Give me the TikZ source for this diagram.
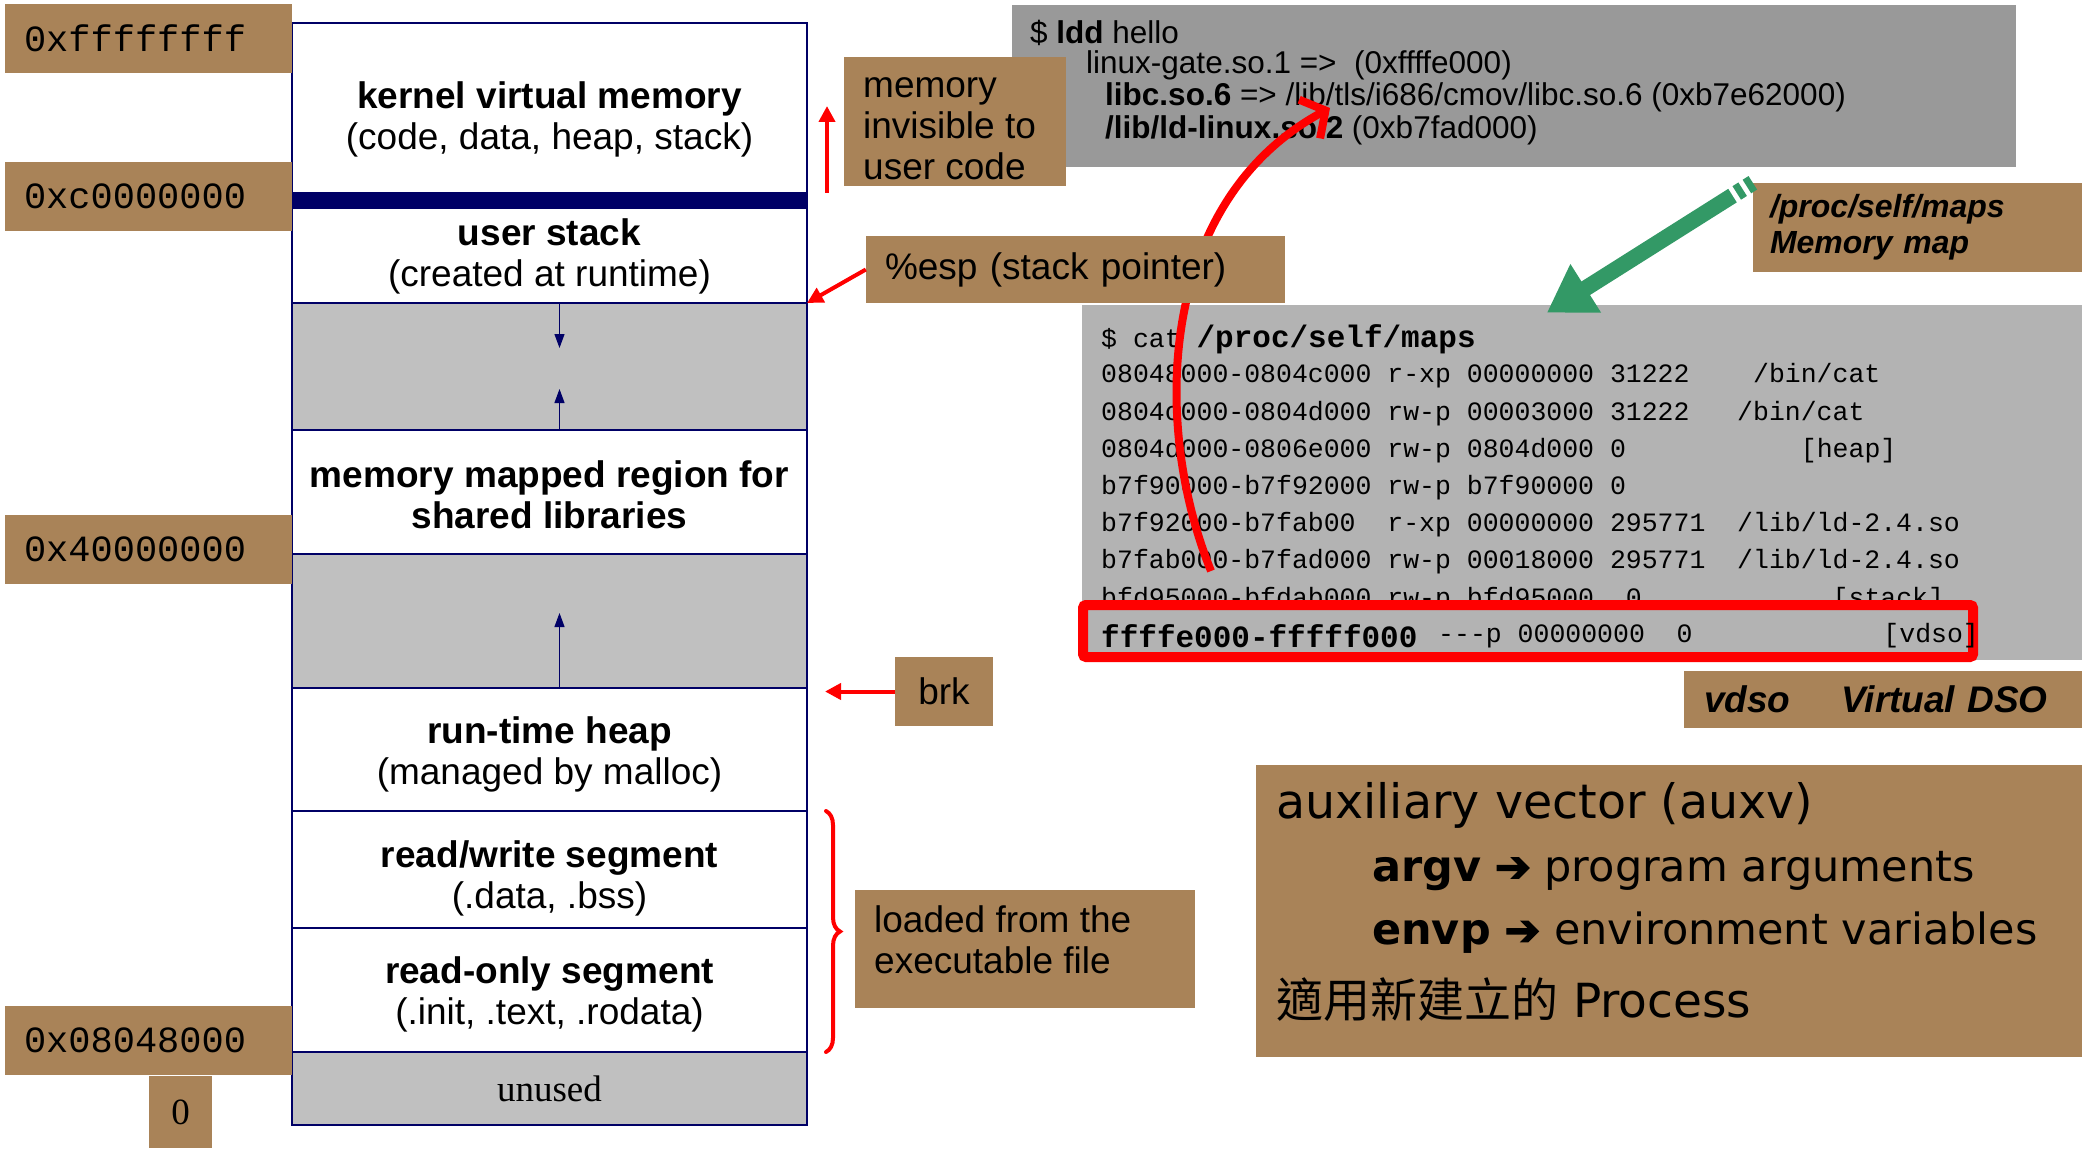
\documentclass[tikz,border=0pt]{standalone}
\usepackage{fontspec}
\setmainfont{Liberation Sans}
\newfontfamily\addrfont{Liberation Mono}
\newfontfamily\serifont{Liberation Serif}
\newfontfamily\auxfont{DejaVu Sans}
\newfontfamily\arrowfont[FakeBold=3]{DejaVu Sans}
\newfontfamily\cjkfont{Noto Sans CJK TC}
\usetikzlibrary{positioning,arrows.meta,decorations.pathreplacing}
\definecolor{tanbox}{RGB}{169,131,88}
\definecolor{navy}{RGB}{0,0,102}
\definecolor{holegray}{RGB}{192,192,192}
\definecolor{mapsgray}{RGB}{179,179,179}
\definecolor{lddgray}{RGB}{153,153,153}
\definecolor{mapgreen}{RGB}{51,153,102}
\newcommand{\fs}[2]{\fontsize{#1}{#2}\selectfont}

\begin{document}
\begin{tikzpicture}[x=1pt,y=-1pt,
    seg/.style={draw=navy,line width=1.5pt,minimum width=515pt,inner sep=0pt,outer sep=0pt},
    hole/.style={seg,fill=holegray},
    segtext/.style={align=center,inner sep=0pt,font=\fs{37}{41}},
    addr/.style={fill=tanbox,minimum width=287pt,minimum height=69pt,inner xsep=19pt,inner ysep=0pt,text width=249pt,align=left,font=\addrfont\fs{37}{40}},
    note/.style={fill=tanbox,inner xsep=19pt,inner ysep=0pt,align=left,font=\fs{37}{41}},
    shell/.style={anchor=west,inner sep=0pt},
    notetext/.style={shell,align=left,font=\fs{37}{41}},
    maprow/.style={shell,font=\addrfont\fs{26.5}{30}},
    growarrow/.style={navy,line width=1.2pt,-{Triangle[length=14pt,width=10pt]}},
    redarrow/.style={red,line width=4pt,-{Triangle[length=16pt,width=16pt]}}
  ]
  \useasboundingbox (0,0) rectangle (2082,1150);

  % memory column
  \node[seg,minimum height=170pt] (kern) at (549.5,108) {};
  \node[seg,fill=navy,minimum height=15pt,below=0pt of kern] (bar) {};
  \node[seg,minimum height=95pt,below=0pt of bar] (ustack) {};
  \node[hole,minimum height=127pt,below=0pt of ustack] (gap1) {};
  \node[seg,minimum height=124pt,below=0pt of gap1] (mmap) {};
  \node[hole,minimum height=134pt,below=0pt of mmap] (gap2) {};
  \node[seg,minimum height=123pt,below=0pt of gap2] (heap) {};
  \node[seg,minimum height=117pt,below=0pt of heap] (rw) {};
  \node[seg,minimum height=124pt,below=0pt of rw] (ro) {};
  \node[hole,minimum height=73pt,below=0pt of ro,font=\serifont\fs{37}{40}] (unused) {unused};

  \node[segtext] (kerntxt) at ([yshift=-11pt]kern.center) {\textbf{kernel virtual memory}\\(code, data, heap, stack)};
  \node[segtext] (ustacktxt) at ([yshift=-1pt]ustack.center) {\textbf{user stack}\\(created at runtime)};
  \node[segtext] (mmaptxt) at ([yshift=-3pt]mmap.center) {\textbf{memory mapped region for}\\\textbf{shared libraries}};
  \node[segtext] (heaptxt) at ([yshift=-5pt]heap.center) {\textbf{run-time heap}\\(managed by malloc)};
  \node[segtext] (rwtxt) at ([yshift=-9pt]rw.center) {\textbf{read/write segment}\\(.data, .bss)};
  \node[segtext] (rotxt) at ([yshift=-4pt]ro.center) {\textbf{read-only segment}\\(.init, .text, .rodata)};

  \node[addr] (ffff) at (148.5,38.5) {0xffffffff};
  \node[addr] (c000) at (148.5,196.5) {0xc0000000};
  \node[addr] (4000) at (148.5,549.5) {0x40000000};
  \node[addr] (0804) at (148.5,1040.5) {0x08048000};
  \node[addr,minimum width=63pt,minimum height=72pt,inner xsep=0pt,text width=63pt,align=center,font=\serifont\fs{37}{40}] (zero) at (180.5,1112) {0};

  \draw[growarrow] ([xshift=10pt]gap1.north) -- ([xshift=10pt,yshift=-45pt]gap1.north);
  \draw[growarrow] ([xshift=10pt]gap1.south) -- ([xshift=10pt,yshift=41pt]gap1.south);
  \draw[growarrow] ([xshift=10pt]gap2.south) -- ([xshift=10pt,yshift=75pt]gap2.south);

  % ldd output
  \node[fill=lddgray,minimum width=1004pt,minimum height=162pt,inner sep=0pt] (ldd) at (1514,86) {};
  \node[shell,font=\fs{31.5}{34}] (l1) at (1030,33) {\$ \textbf{ldd} hello};
  \node[shell,font=\fs{31.5}{34}] (l2) at (1086,65) {linux-gate.so.1 =>~~(0xffffe000)};
  \node[shell,font=\fs{31.5}{34}] (l3) at (1105,97) {\textbf{libc.so.6} => /lib/tls/i686/cmov/libc.so.6 (0xb7e62000)};
  \node[shell,font=\fs{31.5}{34}] (l4) at (1105,130) {\textbf{/lib/ld-linux.so.2} (0xb7fad000)};

  % maps output
  \node[fill=mapsgray,minimum width=1000pt,minimum height=355pt,inner sep=0pt] (maps) at (1582,482.5) {};
  \node[maprow] (m0) at (1101,339) {\$ cat {\bfseries\fs{31}{34}/proc/self/maps}};
  \node[maprow] (m1) at (1101,376) {08048000-0804c000 r-xp 00000000 31222~~~~/bin/cat};
  \node[maprow] (m2) at (1101,414) {0804c000-0804d000 rw-p 00003000 31222~~~/bin/cat};
  \node[maprow] (m3) at (1101,451) {0804d000-0806e000 rw-p 0804d000 0~~~~~~~~~~~[heap]};
  \node[maprow] (m4) at (1101,488) {b7f90000-b7f92000 rw-p b7f90000 0};
  \node[maprow] (m5) at (1101,525) {b7f92000-b7fab00~~r-xp 00000000 295771~~/lib/ld-2.4.so};
  \node[maprow] (m6) at (1101,562) {b7fab000-b7fad000 rw-p 00018000 295771~~/lib/ld-2.4.so};
  \node[maprow] (m7) at (1101,600) {bfd95000-bfdab000 rw-p bfd95000~~0~~~~~~~~~~~~[stack]};
  \node[draw=red,line width=10pt,fill=mapsgray,rounded corners=3pt,minimum width=890pt,minimum height=52pt] (vdsorow) at (1528,631) {};
  \node[maprow,font=\addrfont\bfseries\fs{31}{34}] (m8) at (1101,636) {ffffe000-fffff000};
  \node[maprow] (m8b) at (1438,636) {-{}-{}-p 00000000~~0~~~~~~~~~~~~[vdso]};

  \coordinate (vdsoref) at (1211,571);
  \coordinate (ldtip) at (1330,108);
  \draw[red,line width=8pt,-{Straight Barb[length=18pt,width=44pt]}] (vdsoref) .. controls (1150,420) and (1160,200) .. (ldtip);

  % notes
  \node[note,minimum width=222pt,minimum height=129pt] (invis) at (955,121.5) {};
  \node[notetext] (invistxt) at (863,129) {memory\\invisible to\\user code};
  \node[note,text width=381pt,minimum height=67pt] (esp) at (1075.5,269.5) {\%esp (stack pointer)};
  \node[note,text width=60pt,minimum height=69pt,align=center] (brk) at (944,691.5) {brk};
  \node[note,minimum width=340pt,minimum height=118pt] (loaded) at (1025,949) {};
  \node[notetext] (loadedtxt) at (874,940) {loaded from the\\executable file};
  \node[note,text width=295pt,inner xsep=17pt,minimum height=89pt,font=\bfseries\itshape\fs{32}{36}] (proc) at (1917.5,227.5) {/proc/self/maps\\Memory map};
  \node[note,text width=358pt,inner xsep=20pt,minimum height=57pt,font=\bfseries\itshape\fs{37}{41}] (vdso) at (1883,699.5) {vdso\hspace{51pt}Virtual DSO};

  \coordinate (mapstip) at ([xshift=465pt,yshift=-8pt]maps.north west);
  \draw[mapgreen,line width=16pt,dash pattern=on 7pt off 5pt on 7pt off 5pt on 600pt,-{Triangle[length=46pt,width=54pt]}] (proc.north west) -- (mapstip);

  % auxv
  \node[fill=tanbox,minimum width=826pt,minimum height=292pt,inner sep=0pt] (auxv) at (1669,911) {};
  \node[shell,font=\auxfont\fs{47.5}{50}] (x1) at (1276,805) {auxiliary vector (auxv)};
  \node[shell,font=\auxfont\fs{43}{48}] (x2) at (1372,871) {\textbf{argv} {\arrowfont ➔} program arguments};
  \node[shell,font=\auxfont\fs{43}{48}] (x3) at (1372,933) {\textbf{envp} {\arrowfont ➔} environment variables};
  \node[shell,font=\auxfont\fs{47}{50}] (x4) at (1276,1000) {{\cjkfont 適用新建立的} Process};

  % connectors
  \draw[redarrow] ([xshift=20pt]kern.south east) -- ([xshift=20pt,yshift=87pt]kern.south east);
  \draw[redarrow] (esp.west) -- (ustack.south east);
  \coordinate (brktip) at ([xshift=18pt]heap.north east);
  \draw[redarrow] (brk.west) -- (brktip |- brk.west);
  \draw[red,line width=4pt,line cap=round,decorate,decoration={brace,amplitude=14pt}] ([xshift=19pt]rw.north east) -- ([xshift=19pt]ro.south east);
\end{tikzpicture}
\end{document}
